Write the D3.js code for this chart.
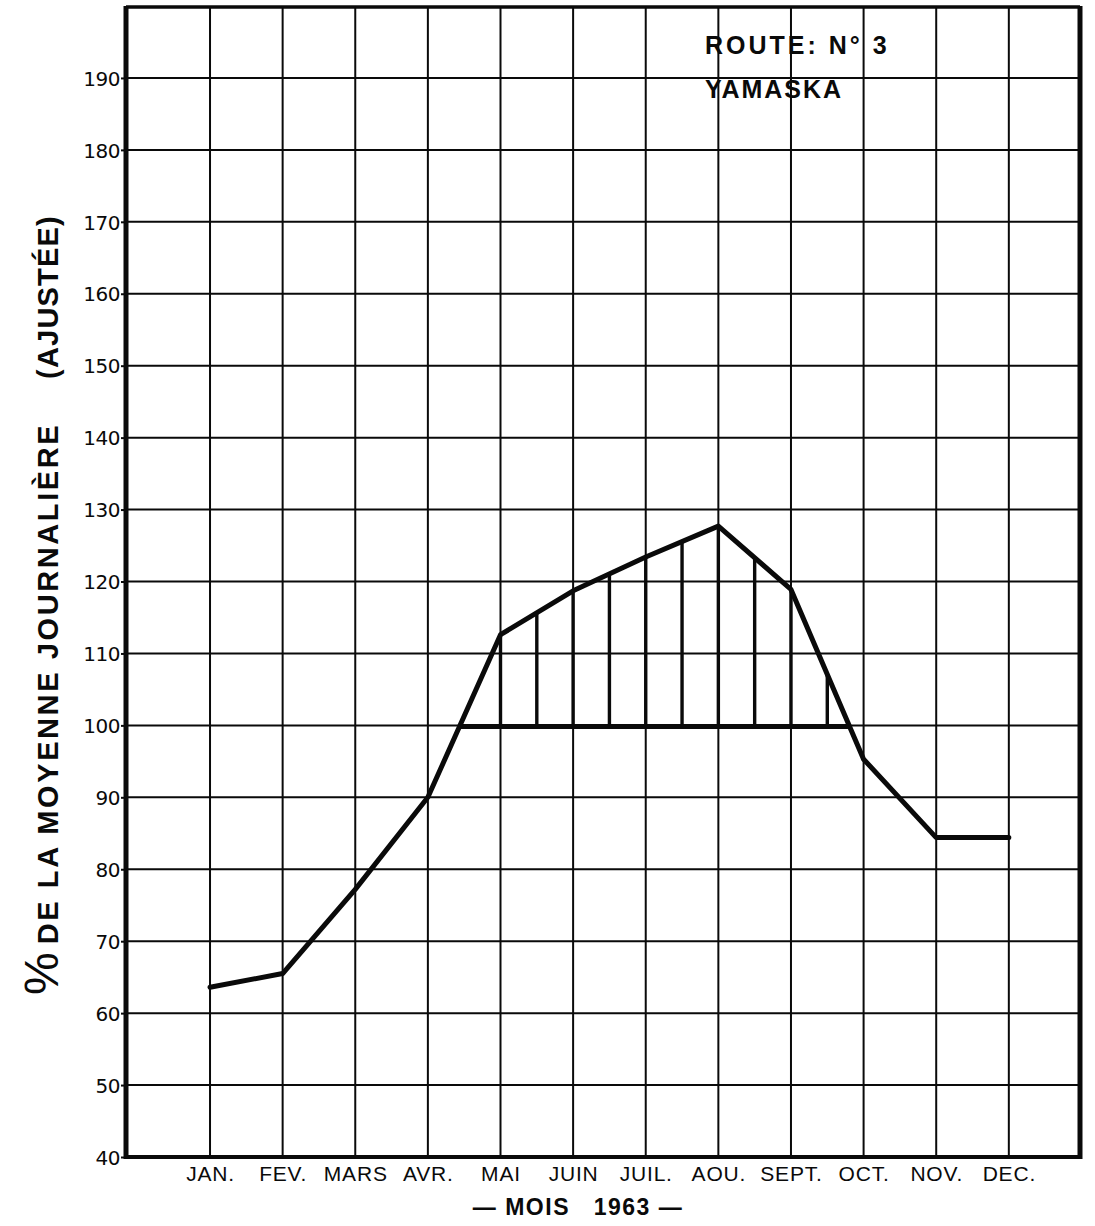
<!DOCTYPE html>
<html>
<head>
<meta charset="utf-8">
<script src="https://cdn.jsdelivr.net/npm/d3@7"></script>
<style>
  html, body { margin: 0; padding: 0; background: #fff; }
  svg { display: block; }
</style>
</head>
<body>
<svg id="chart" width="1095" height="1226"></svg>
<script>
// ---- data ----
const months = ["JAN.", "FEV.", "MARS", "AVR.", "MAI", "JUIN", "JUIL.", "AOU.", "SEPT.", "OCT.", "NOV.", "DEC."];
const values = [63.6, 65.5, 77.2, 90.0, 112.6, 118.7, 123.4, 127.7, 118.9, 95.3, 84.4, 84.4];
const yTicks = [40, 50, 60, 70, 80, 90, 100, 110, 120, 130, 140, 150, 160, 170, 180, 190];
const baseline = 100;
const hatchMonths = [4, 4.5, 5, 5.5, 6, 6.5, 7, 7.5, 8, 8.5];
const routeLabel = "ROUTE: N° 3";
const placeLabel = "YAMASKA";
const xTitle = "— MOIS   1963 —";
const yTitle = "DE LA MOYENNE JOURNALIÈRE";
const yTitle2 = "(AJUSTÉE)";

// ---- layout ----
const L = 126, R = 1080, T = 6, B = 1157;
const svg = d3.select("#chart");
const x = d3.scaleLinear().domain([-1.157, 11.98]).range([L, R]);
const y = d3.scaleLinear().domain([40, 200]).range([B, T]);
const ink = "#0a0a0a";

// grid: horizontal
svg.append("g")
  .selectAll("line")
  .data(yTicks.filter(v => v > 40))
  .join("line")
  .attr("x1", L).attr("x2", R)
  .attr("y1", d => y(d)).attr("y2", d => y(d))
  .attr("stroke", ink).attr("stroke-width", 2);

// grid: vertical at months
svg.append("g")
  .selectAll("line")
  .data(months.map((m, i) => i))
  .join("line")
  .attr("x1", d => x(d)).attr("x2", d => x(d))
  .attr("y1", T).attr("y2", B)
  .attr("stroke", ink).attr("stroke-width", 2);

// frame
svg.append("line").attr("x1", L).attr("x2", R).attr("y1", T + 1).attr("y2", T + 1).attr("stroke", ink).attr("stroke-width", 3.5);
svg.append("line").attr("x1", L).attr("x2", L).attr("y1", T).attr("y2", B + 2).attr("stroke", ink).attr("stroke-width", 5);
svg.append("line").attr("x1", R).attr("x2", R).attr("y1", T).attr("y2", B + 2).attr("stroke", ink).attr("stroke-width", 5);
svg.append("line").attr("x1", L - 2).attr("x2", R + 2).attr("y1", B).attr("y2", B).attr("stroke", ink).attr("stroke-width", 4);

// y axis ticks + labels
const yAxis = d3.axisLeft(y).tickValues(yTicks).tickSize(5).tickPadding(1).tickFormat(d3.format("d"));
const gy = svg.append("g").attr("transform", `translate(${L},0)`).call(yAxis);
gy.select(".domain").remove();
gy.selectAll(".tick line").attr("stroke", ink).attr("stroke-width", 2);
gy.selectAll(".tick text")
  .attr("fill", ink)
  .attr("font-family", "'DejaVu Sans', sans-serif")
  .attr("font-size", 20)
  .attr("letter-spacing", -0.5)
  .attr("dy", "0.36em");

// x axis month labels
const xAxis = d3.axisBottom(x).tickValues(months.map((m, i) => i)).tickSize(0).tickPadding(9)
  .tickFormat(i => months[i]);
const gx = svg.append("g").attr("transform", `translate(0,${B})`).call(xAxis);
gx.select(".domain").remove();
gx.selectAll(".tick text")
  .attr("fill", ink)
  .attr("font-family", "'Liberation Sans', sans-serif")
  .attr("font-size", 21)
  .attr("letter-spacing", 0.8);

// baseline crossing positions (geometry of the drawn line)
function crossings(level) {
  const out = [];
  for (let i = 0; i < values.length - 1; i++) {
    const a = values[i], b = values[i + 1];
    if ((a - level) * (b - level) < 0) out.push(i + (level - a) / (b - a));
  }
  return out;
}
function lineAt(m) {
  const i = Math.min(Math.floor(m), values.length - 2);
  const t = m - i;
  return values[i] + (values[i + 1] - values[i]) * t;
}
const cr = crossings(baseline);

// hatch verticals
svg.append("g")
  .selectAll("line")
  .data(hatchMonths)
  .join("line")
  .attr("x1", d => x(d)).attr("x2", d => x(d))
  .attr("y1", y(baseline)).attr("y2", d => y(lineAt(d)))
  .attr("stroke", ink).attr("stroke-width", 3.4);

// thick baseline between crossings
svg.append("line")
  .attr("x1", x(cr[0])).attr("x2", x(cr[cr.length - 1]))
  .attr("y1", y(baseline) + 1).attr("y2", y(baseline) + 1)
  .attr("stroke", ink).attr("stroke-width", 5);

// data line
const line = d3.line().x((d, i) => x(i)).y(d => y(d)).curve(d3.curveLinear);
svg.append("path")
  .datum(values)
  .attr("d", line)
  .attr("fill", "none")
  .attr("stroke", ink)
  .attr("stroke-width", 5)
  .attr("stroke-linejoin", "round")
  .attr("stroke-linecap", "round");

// annotations
svg.append("text")
  .attr("x", 705).attr("y", 54)
  .attr("font-family", "'Liberation Sans', sans-serif")
  .attr("font-weight", "bold").attr("font-size", 25)
  .attr("letter-spacing", 3)
  .attr("fill", ink)
  .text(routeLabel);
svg.append("text")
  .attr("x", 705).attr("y", 98)
  .attr("font-family", "'Liberation Sans', sans-serif")
  .attr("font-weight", "bold").attr("font-size", 25)
  .attr("letter-spacing", 2)
  .attr("fill", ink)
  .text(placeLabel);

// x title
svg.append("text")
  .attr("x", 578).attr("y", 1215)
  .attr("text-anchor", "middle")
  .attr("font-family", "'Liberation Sans', sans-serif")
  .attr("font-weight", "bold").attr("font-size", 23)
  .attr("letter-spacing", 1.5)
  .attr("fill", ink)
  .attr("xml:space", "preserve")
  .style("white-space", "pre")
  .text(xTitle);

// y title (rotated)
const yt = svg.append("text")
  .attr("transform", "translate(58,995) rotate(-90)")
  .attr("font-family", "'Liberation Sans', sans-serif")
  .attr("font-weight", "bold")
  .attr("fill", ink);
yt.append("tspan").attr("font-size", 48).attr("font-weight", "normal").text("%");
yt.append("tspan").attr("font-size", 29).attr("dx", 8).attr("letter-spacing", 2.6).text(yTitle);

svg.append("text")
  .attr("transform", "translate(58,297) rotate(-90)")
  .attr("text-anchor", "middle")
  .attr("font-family", "'Liberation Sans', sans-serif")
  .attr("font-weight", "bold")
  .attr("font-size", 29)
  .attr("letter-spacing", 1.2)
  .attr("fill", ink)
  .text(yTitle2);
</script>
</body>
</html>
